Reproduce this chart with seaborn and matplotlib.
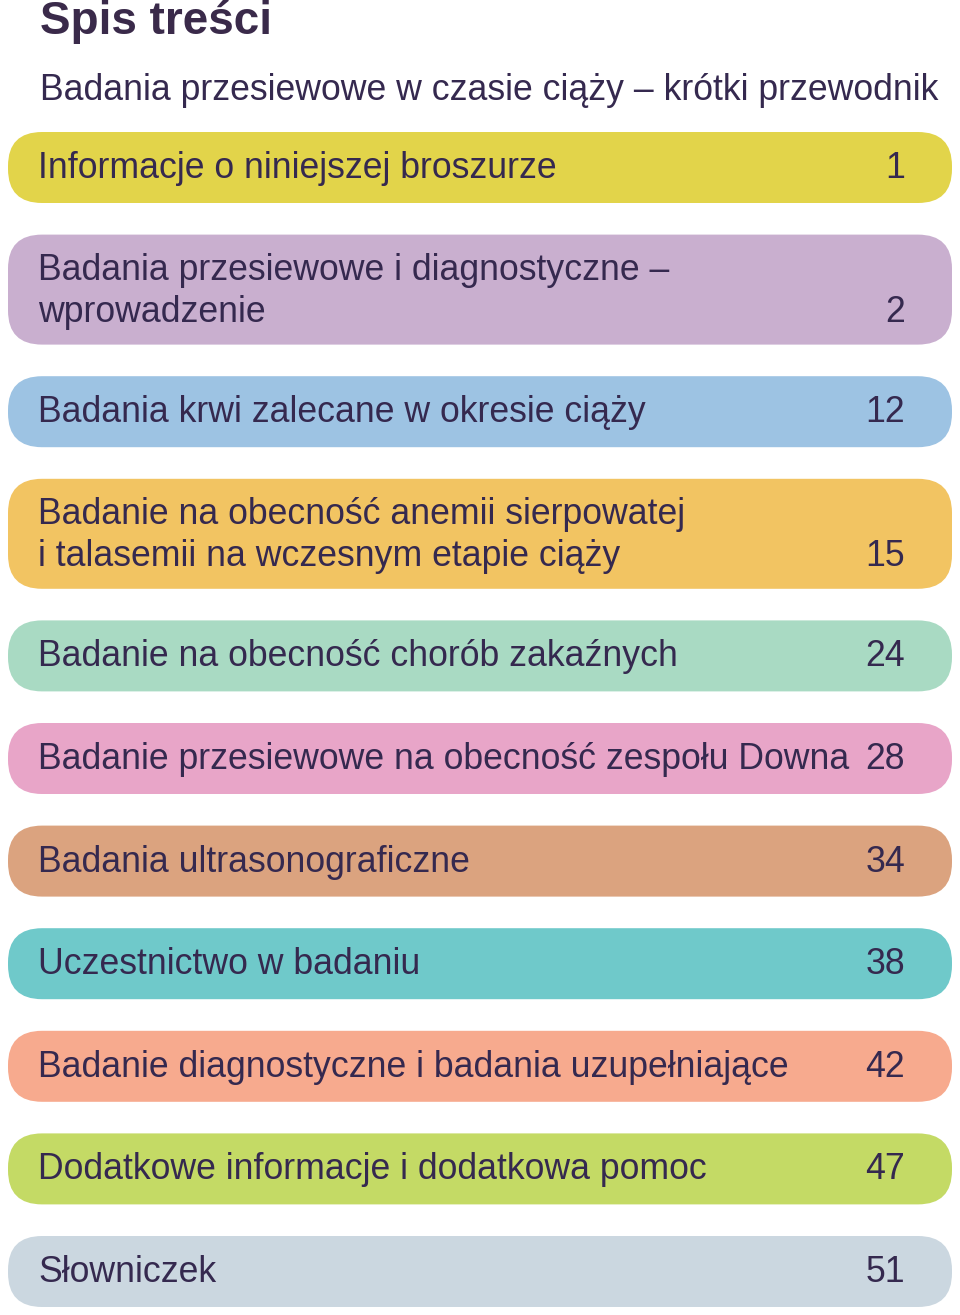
import matplotlib
matplotlib.use("Agg")
import matplotlib.pyplot as plt
from matplotlib.patches import FancyBboxPatch
import seaborn as sns

sns.set_theme(style="white")

title = "Spis treści"
subtitle = "Badania przesiewowe w czasie ciąży – krótki przewodnik"
entries = [
    "Informacje o niniejszej broszurze",
    "Badania przesiewowe i diagnostyczne –\nwprowadzenie",
    "Badania krwi zalecane w okresie ciąży",
    "Badanie na obecność anemii sierpowatej\ni talasemii na wczesnym etapie ciąży",
    "Badanie na obecność chorób zakaźnych",
    "Badanie przesiewowe na obecność zespołu Downa",
    "Badania ultrasonograficzne",
    "Uczestnictwo w badaniu",
    "Badanie diagnostyczne i badania uzupełniające",
    "Dodatkowe informacje i dodatkowa pomoc",
    "Słowniczek",
]
pages = ["1", "2", "12", "15", "24", "28", "34", "38", "42", "47", "51"]
colors = ["#E2D44A", "#C9AFCF", "#9DC3E3", "#F2C462", "#A9DAC3", "#E8A5C8",
          "#DBA37F", "#6FC9CA", "#F7AA8E", "#C4DA65", "#CBD7E0"]

W, H = 960, 1315
fig = plt.figure(figsize=(W / 100, H / 100), dpi=100)
ax = fig.add_axes([0, 0, 1, 1])
ax.set_xlim(0, W)
ax.set_ylim(H, 0)
ax.axis("off")

txt = "#35294F"
font = "Liberation Sans"
fs = 25.7
ax.text(40, 22, title, fontsize=33, fontweight="bold", color="#3A2A4A",
        family=font, va="center", ha="left")
ax.text(40, 90, subtitle, fontsize=fs, color=txt, family=font,
        va="center", ha="left")

y = 132
for label, page, c in zip(entries, pages, colors):
    n = label.count("\n") + 1
    h = 71 if n == 1 else 110
    ax.add_patch(FancyBboxPatch((8, y), 944, h,
                                boxstyle="round,pad=0,rounding_size=34",
                                fc=c, ec="none"))
    lines = label.split("\n")
    if n == 1:
        ax.text(38, y + h / 2 + 1, lines[0], fontsize=fs, color=txt,
                family=font, va="center", ha="left")
        ax.text(905, y + h / 2 + 1, page, fontsize=fs, color=txt,
                family=font, va="center", ha="right")
    else:
        ax.text(38, y + 36, lines[0], fontsize=fs, color=txt,
                family=font, va="center", ha="left")
        ax.text(38, y + 78, lines[1], fontsize=fs, color=txt,
                family=font, va="center", ha="left")
        ax.text(905, y + 78, page, fontsize=fs, color=txt,
                family=font, va="center", ha="right")
    y += h + 31.6

fig.savefig("out.png", dpi=100)
